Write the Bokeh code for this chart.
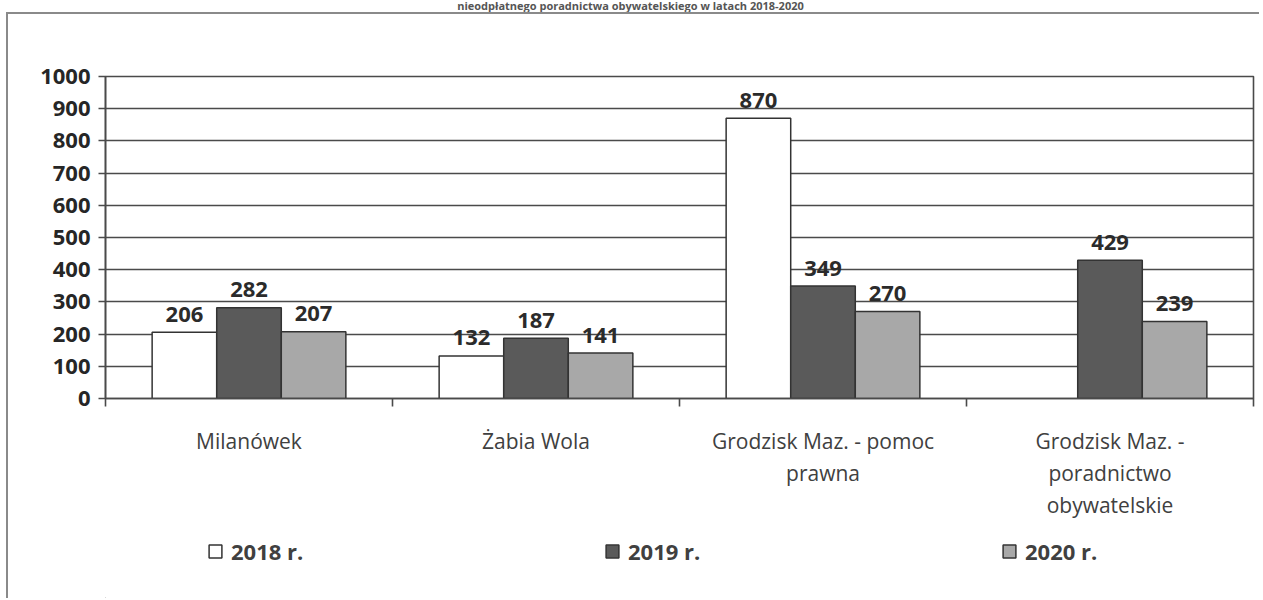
from bokeh.plotting import figure
from bokeh.layouts import column
from bokeh.models import (ColumnDataSource, Range1d, FixedTicker, Legend, LegendItem, Div)
from bokeh.transform import dodge
from bokeh.core.properties import value
from bokeh.embed import file_html
from bokeh.resources import INLINE

# ---- data ----
title_text = "nieodpłatnego poradnictwa obywatelskiego w latach 2018-2020"
categories = ["Milanówek", "Żabia Wola", "Grodzisk Maz. - pomoc prawna",
              "Grodzisk Maz. - poradnictwo obywatelskie"]
category_labels = ["Milanówek", "Żabia Wola", "Grodzisk Maz. - pomoc\nprawna",
                   "Grodzisk Maz. -\nporadnictwo\nobywatelskie"]
series_names = ["2018 r.", "2019 r.", "2020 r."]
values_2018 = [206, 132, 870, None]
values_2019 = [282, 187, 349, 429]
values_2020 = [207, 141, 270, 239]
y_ticks = [0, 100, 200, 300, 400, 500, 600, 700, 800, 900, 1000]

FONT = "Open Sans"
AX = "#4a4a4a"
FRAME = "2px solid #8a8a8a"
bar_colors = ["#ffffff", "#5a5a5a", "#a8a8a8"]
offsets = [-0.225, 0.0, 0.225]
bar_w = 0.225
n = len(categories)
cat_pos = [i + 0.5 for i in range(n)]  # category slot centres
cat_edges = list(range(n + 1))          # category slot boundaries

title_div = Div(text=title_text, width=1261, height=12, margin=0,
                styles={"font-family": FONT, "font-weight": "bold", "font-size": "11px",
                        "line-height": "12px", "color": "#555555", "text-align": "center"})

p = figure(width=1253, height=520, x_range=Range1d(0, n),
           y_range=Range1d(0, 1000), output_backend="svg", toolbar_location=None,
           min_border_left=97, min_border_right=8,
           min_border_top=62, min_border_bottom=136)
p.styles = {"border-top": FRAME, "border-left": FRAME}
p.margin = (0, 0, 0, 6)
p.background_fill_color = "white"
p.border_fill_color = "white"
p.outline_line_color = AX
p.outline_line_width = 1.6

# y axis
p.yaxis.ticker = FixedTicker(ticks=y_ticks)
p.yaxis.major_label_text_font = FONT
p.yaxis.major_label_text_font_style = "bold"
p.yaxis.major_label_text_font_size = "22px"
p.yaxis.major_label_text_color = "#262626"
p.yaxis.major_tick_out = 7
p.yaxis.major_tick_in = 0
p.yaxis.minor_tick_line_color = None
p.yaxis.axis_line_color = AX
p.yaxis.axis_line_width = 1.6
p.yaxis.major_tick_line_color = AX
p.yaxis.major_tick_line_width = 1.6
p.yaxis.major_label_standoff = 8
p.ygrid.grid_line_color = AX
p.ygrid.grid_line_width = 1.6
p.xgrid.grid_line_color = None

# x axis: labels at slot centres, ticks at slot boundaries
p.xaxis.ticker = FixedTicker(ticks=cat_pos, minor_ticks=cat_edges)
p.xaxis.major_label_overrides = {x: t for x, t in zip(cat_pos, category_labels)}
p.xaxis.major_label_text_font = FONT
p.xaxis.major_label_text_font_size = "21px"
p.xaxis.major_label_text_color = "#404040"
p.xaxis.major_label_text_line_height = 1.16
p.xaxis.major_label_standoff = 20
p.xaxis.major_tick_out = 8
p.xaxis.major_tick_in = 0
p.xaxis.major_tick_line_color = None
p.xaxis.minor_tick_out = 8
p.xaxis.minor_tick_in = 0
p.xaxis.minor_tick_line_color = AX
p.xaxis.minor_tick_line_width = 1.6
p.xaxis.axis_line_color = AX
p.xaxis.axis_line_width = 1.6

# bars
for name, vals, col, off in zip(series_names, [values_2018, values_2019, values_2020],
                                bar_colors, offsets):
    xs = [x for x, v in zip(cat_pos, vals) if v is not None]
    vs = [v for v in vals if v is not None]
    src = ColumnDataSource(dict(x=xs, val=vs, lab=[str(v) for v in vs]))
    p.vbar(x=dodge("x", off), top="val", width=bar_w, source=src,
           fill_color=col, line_color="#333333", line_width=1.5)
    p.text(x=dodge("x", off), y="val", text="lab", source=src,
           text_align="center", text_baseline="alphabetic", y_offset=-18,
           text_font=value(FONT), text_font_style="bold", text_font_size="22px",
           text_color="#2b2b2b")

# legend strip underneath (swatch renderers sit outside the visible range)
lg = figure(width=1253, height=66, x_range=Range1d(0, 1), y_range=Range1d(0, 1),
            output_backend="svg", toolbar_location=None, min_border=0,
            x_axis_location=None, y_axis_location=None)
lg.styles = {"border-left": FRAME}
lg.margin = (0, 0, 0, 6)
lg.outline_line_color = None
lg.xgrid.grid_line_color = None
lg.ygrid.grid_line_color = None
leg_items = []
for name, col in zip(series_names, bar_colors):
    r = lg.vbar(x=[-5], top=[0], width=0.1, fill_color=col, line_color="#333333",
                line_width=1.5)
    leg_items.append(LegendItem(label=name, renderers=[r]))
legend = Legend(items=leg_items, orientation="horizontal", location=(102, 32),
                glyph_width=16, glyph_height=16, label_standoff=8, label_width=365, spacing=8,
                label_text_font=FONT, label_text_font_style="bold", label_text_font_size="22px",
                label_text_color="#404040", padding=0, margin=0, border_line_color=None,
                background_fill_alpha=0)
lg.add_layout(legend, "center")

layout = column(title_div, p, lg, spacing=0)
open("out.html", "w").write(file_html(layout, INLINE))
